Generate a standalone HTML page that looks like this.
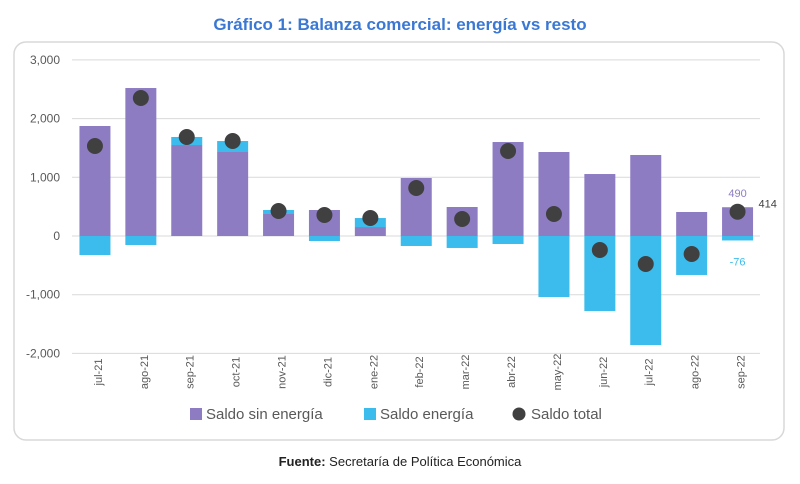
<!DOCTYPE html>
<html><head><meta charset="utf-8">
<style>
body{margin:0;width:800px;height:479px;background:#fff;font-family:"Liberation Sans",sans-serif;overflow:hidden}
svg text{font-family:"Liberation Sans",sans-serif}
</style></head><body>
<svg id="chart" width="800" height="479" xmlns="http://www.w3.org/2000/svg">
<text x="400" y="30" text-anchor="middle" font-size="17" font-weight="bold" fill="#3a78d4">Gráfico 1: Balanza comercial: energía vs resto</text>
<rect x="14" y="42" width="770" height="398" rx="12" fill="none" stroke="#d8d8d8" stroke-width="1.5"/>
<g id="grid"></g><g id="bars"></g><g id="dots"></g><g id="xl"></g>
<g>
<rect x="190" y="408" width="12" height="12" fill="#8e7cc3"/>
<text x="206" y="419" font-size="15" fill="#595959">Saldo sin energía</text>
<rect x="364" y="408" width="12" height="12" fill="#3bbcec"/>
<text x="380" y="419" font-size="15" fill="#595959">Saldo energía</text>
<circle cx="519" cy="414" r="6.5" fill="#404040"/>
<text x="531" y="419" font-size="15" fill="#595959">Saldo total</text>
</g>
<text x="400" y="466" text-anchor="middle" font-size="13" fill="#222"><tspan font-weight="bold">Fuente:</tspan> Secretaría de Política Económica</text>
</svg>
<script>
const categories=["jul-21","ago-21","sep-21","oct-21","nov-21","dic-21","ene-22","feb-22","mar-22","abr-22","may-22","jun-22","jul-22","ago-22","sep-22"];
const sinEnergia=[1874,2521,1550,1431,375,443,153,988,494,1601,1431,1056,1380,409,490];
const energia=[-324,-153,137,187,68,-85,153,-170,-204,-136,-1039,-1278,-1857,-664,-76];
const total=[1533,2351,1687,1618,426,358,307,818,290,1448,375,-239,-477,-307,414];
const yTicks=[3000,2000,1000,0,-1000,-2000];
const yTickLabels=["3,000","2,000","1,000","0","-1,000","-2,000"];
const NS="http://www.w3.org/2000/svg";
const y=v=>236-v*0.0587;
const x0=72,step=45.9;
const x=i=>x0+step*(i+0.5);
function mk(t,a,p){const e=document.createElementNS(NS,t);for(const k in a)e.setAttribute(k,a[k]);p.appendChild(e);return e;}
const g=document.getElementById('grid');
yTicks.forEach((v,i)=>{
 const l=mk('line',{x1:x0,x2:760,y1:y(v),y2:y(v),stroke:'#d9d9d9','stroke-width':1},g);
 
 
 const t=mk('text',{x:60,y:y(v)+4,'text-anchor':'end','font-size':12,fill:'#595959'},g);
 t.textContent=yTickLabels[i];
 
 
});
const b=document.getElementById('bars'),d=document.getElementById('dots'),xl=document.getElementById('xl');
const bw=31;
categories.forEach((c,i)=>{
 const cx=x(i);
 const p=mk('rect',{x:cx-bw/2,y:y(sinEnergia[i]),width:bw,height:y(0)-y(sinEnergia[i]),fill:'#8e7cc3'},b);
 
 
 let ey,eh;
 if(energia[i]>=0){ey=y(sinEnergia[i]+energia[i]);eh=y(sinEnergia[i])-ey;}
 else{ey=y(0);eh=y(energia[i])-y(0);}
 const e=mk('rect',{x:cx-bw/2,y:ey,width:bw,height:eh,fill:'#3bbcec'},b);
 
 
 const dt=mk('circle',{cx:cx,cy:y(total[i]),r:8,fill:'#404040'},d);
 
 
 const t=mk('text',{x:cx+4,y:372,'text-anchor':'middle','font-size':11,fill:'#595959',transform:`rotate(-90 ${cx+4} 372)`},xl);
 t.setAttribute('dominant-baseline','middle');
 t.textContent=c;
 
 
});
const n=categories.length-1,lx=x(n);
const l1=mk('text',{x:lx,y:y(sinEnergia[n])-10,'text-anchor':'middle','font-size':11,fill:'#8e7cc3'},d);l1.textContent=sinEnergia[n];


const l2=mk('text',{x:lx,y:y(energia[n])+25,'text-anchor':'middle','font-size':11,fill:'#3bbcec'},d);l2.textContent=energia[n];


const l3=mk('text',{x:lx+21,y:y(total[n])-4,'font-size':11,fill:'#404040'},d);l3.textContent=total[n];


</script>
</body></html>
